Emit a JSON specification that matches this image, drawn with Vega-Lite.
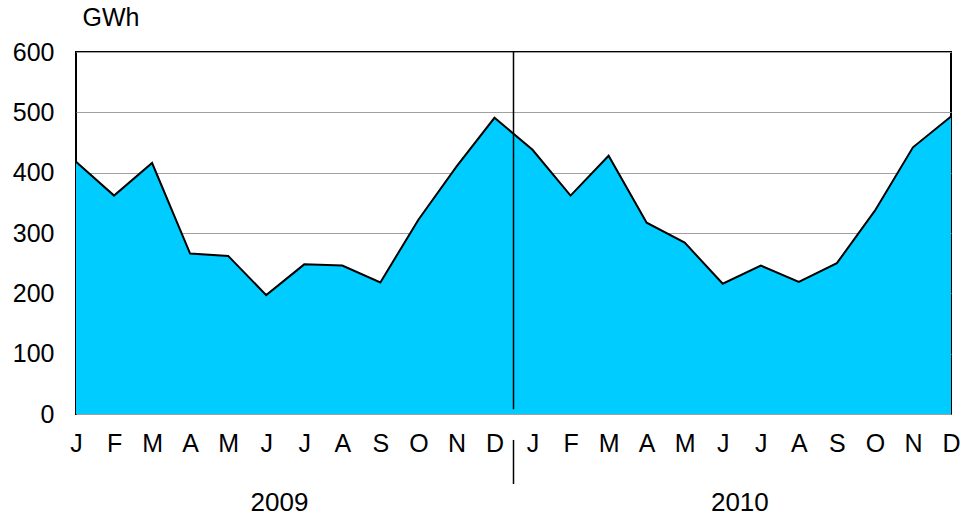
{
  "$schema": "https://vega.github.io/schema/vega-lite/v6.json",
  "width": 875,
  "height": 362,
  "autosize": {"type": "none"},
  "padding": {"left": 76, "top": 52, "right": 13, "bottom": 103},
  "background": "white",
  "config": {
    "font": "Liberation Sans",
    "view": {"stroke": "black", "strokeWidth": 2}
  },
  "resolve": {"scale": {"x": "independent"}, "axis": {"x": "independent"}},
  "layer": [
    {
      "data": {"values": [
        {"i": 0, "v": 418}, {"i": 1, "v": 362}, {"i": 2, "v": 416}, {"i": 3, "v": 266},
        {"i": 4, "v": 262}, {"i": 5, "v": 197}, {"i": 6, "v": 248}, {"i": 7, "v": 246},
        {"i": 8, "v": 218}, {"i": 9, "v": 322}, {"i": 10, "v": 410}, {"i": 11, "v": 491},
        {"i": 12, "v": 438}, {"i": 13, "v": 362}, {"i": 14, "v": 428}, {"i": 15, "v": 317},
        {"i": 16, "v": 284}, {"i": 17, "v": 216}, {"i": 18, "v": 246}, {"i": 19, "v": 219},
        {"i": 20, "v": 250}, {"i": 21, "v": 337}, {"i": 22, "v": 442}, {"i": 23, "v": 493}
      ]},
      "mark": {"type": "area", "color": "#00CCFF", "opacity": 1, "line": {"color": "black", "strokeWidth": 2}},
      "encoding": {
        "x": {
          "field": "i", "type": "ordinal",
          "scale": {"type": "point", "padding": 0},
          "axis": {
            "title": null,
            "labelExpr": "substring('JFMAMJJASOND', datum.value % 12, datum.value % 12 + 1)",
            "labelAngle": 0, "labelFontSize": 25, "labelColor": "black", "labelPadding": 17,
            "labelOverlap": false, "labelFlush": false, "labelBound": false,
            "ticks": false, "domain": false, "grid": false
          }
        },
        "y": {
          "field": "v", "type": "quantitative",
          "scale": {"domain": [0, 600], "nice": false},
          "axis": {
            "title": "GWh", "titleAngle": 0, "titleAlign": "left", "titleX": 6, "titleY": -22,
            "titleBaseline": "bottom", "titleFontSize": 25, "titleFontWeight": "normal", "titleColor": "black",
            "values": [0, 100, 200, 300, 400, 500, 600],
            "labelFontSize": 25, "labelColor": "black", "labelPadding": 22,
            "ticks": false, "domain": false,
            "grid": true, "gridColor": "#a0a0a0", "gridWidth": 1
          }
        }
      }
    },
    {
      "data": {"values": [
        {"x": 11.5, "y": 8, "y2": 600},
        {"x": 11.5, "y": -43, "y2": -116}
      ]},
      "mark": {"type": "rule", "color": "black", "strokeWidth": 1.5, "clip": false},
      "encoding": {
        "x": {"field": "x", "type": "quantitative", "scale": {"domain": [0, 23], "nice": false, "zero": false}, "axis": null},
        "y": {"field": "y", "type": "quantitative"},
        "y2": {"field": "y2"}
      }
    },
    {
      "data": {"values": [
        {"x": 5.35, "y": -148, "label": "2009"},
        {"x": 17.45, "y": -148, "label": "2010"}
      ]},
      "mark": {"type": "text", "fontSize": 26, "color": "black", "clip": false, "baseline": "middle"},
      "encoding": {
        "x": {"field": "x", "type": "quantitative", "scale": {"domain": [0, 23], "nice": false, "zero": false}, "axis": null},
        "y": {"field": "y", "type": "quantitative"},
        "text": {"field": "label"}
      }
    }
  ]
}
